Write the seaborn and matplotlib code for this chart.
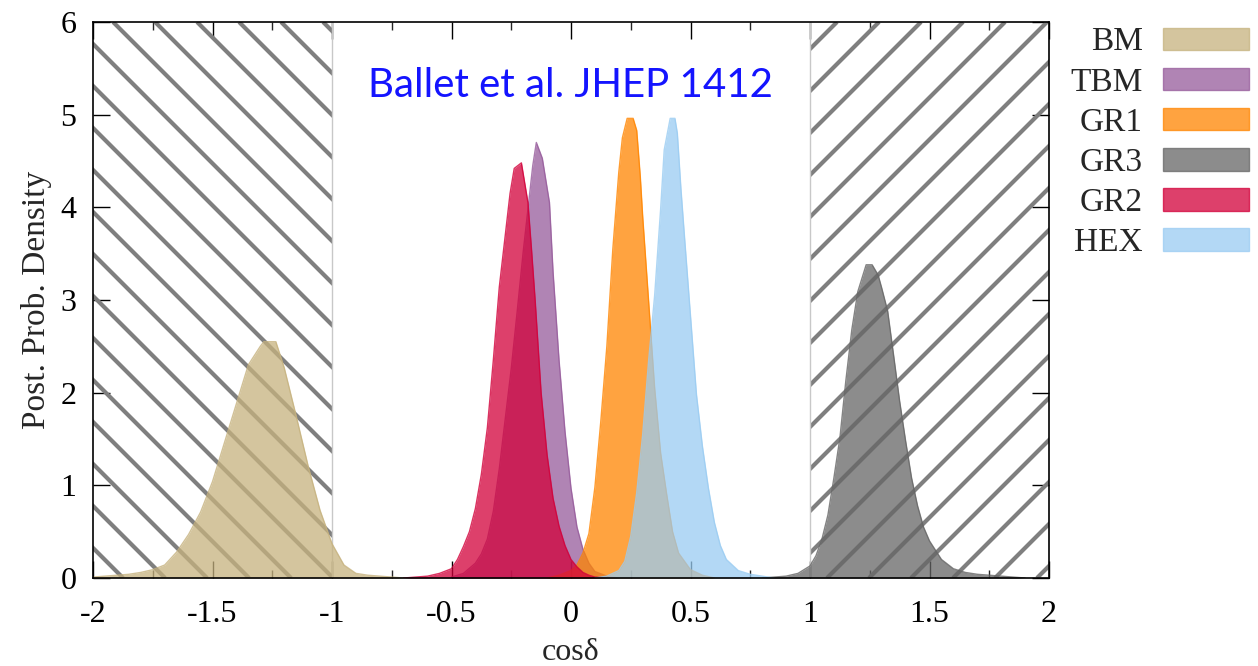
import numpy as np
import pandas as pd
import matplotlib
matplotlib.use("Agg")
import matplotlib.pyplot as plt
import seaborn as sns
from matplotlib.patches import Rectangle, Patch
from matplotlib.ticker import MultipleLocator

# ---------------- data ----------------
series_names = ["BM", "TBM", "GR1", "GR3", "GR2", "HEX"]

bm_x = [-2.0, -1.9, -1.85, -1.8, -1.75, -1.7, -1.65, -1.6, -1.55, -1.5, -1.45, -1.4, -1.35,
        -1.3, -1.285, -1.235, -1.2, -1.15, -1.1, -1.05, -1.0, -0.95, -0.9, -0.85, -0.8, -0.7]
bm_y = [0.01, 0.03, 0.04, 0.06, 0.09, 0.14, 0.28, 0.47, 0.71, 1.04, 1.46, 1.88, 2.30,
        2.50, 2.55, 2.55, 2.27, 1.75, 1.21, 0.73, 0.37, 0.14, 0.05, 0.03, 0.02, 0.0]

tbm_x = [-0.50, -0.45, -0.40, -0.375, -0.35, -0.325, -0.30, -0.275, -0.25, -0.225, -0.20,
         -0.175, -0.16, -0.145, -0.12, -0.09, -0.075, -0.05, -0.025, 0.0, 0.025, 0.05,
         0.075, 0.10, 0.15, 0.20]
tbm_y = [0.01, 0.05, 0.16, 0.26, 0.42, 0.72, 1.18, 1.72, 2.26, 2.88, 3.52,
         4.10, 4.45, 4.70, 4.53, 4.05, 3.30, 2.35, 1.58, 0.97, 0.55, 0.31,
         0.16, 0.07, 0.02, 0.0]

gr1_x = [-0.10, -0.05, 0.0, 0.025, 0.05, 0.075, 0.10, 0.125, 0.15, 0.175, 0.20, 0.215,
         0.235, 0.26, 0.275, 0.29, 0.30, 0.325, 0.35, 0.375, 0.40, 0.425, 0.45, 0.50,
         0.55, 0.60]
gr1_y = [0.0, 0.03, 0.08, 0.14, 0.27, 0.48, 0.98, 1.70, 2.50, 3.55, 4.38, 4.75,
         4.96, 4.96, 4.83, 4.33, 3.90, 2.98, 2.05, 1.35, 0.91, 0.50, 0.27, 0.09,
         0.03, 0.0]

gr3_x = [0.80, 0.85, 0.90, 0.95, 1.0, 1.025, 1.05, 1.075, 1.10, 1.125, 1.15, 1.175, 1.20,
         1.235, 1.26, 1.285, 1.30, 1.325, 1.35, 1.375, 1.40, 1.425, 1.45, 1.475, 1.50,
         1.55, 1.60, 1.65, 1.70, 1.80, 1.90]
gr3_y = [0.0, 0.01, 0.02, 0.05, 0.13, 0.24, 0.42, 0.68, 1.08, 1.51, 2.13, 2.68, 3.09,
         3.38, 3.38, 3.27, 3.13, 2.88, 2.40, 1.91, 1.48, 1.08, 0.78, 0.55, 0.40,
         0.20, 0.10, 0.06, 0.04, 0.02, 0.0]

gr2_x = [-0.70, -0.65, -0.60, -0.55, -0.50, -0.475, -0.45, -0.425, -0.40, -0.375, -0.35,
         -0.325, -0.30, -0.275, -0.255, -0.2375, -0.2075, -0.18, -0.165, -0.15, -0.125,
         -0.10, -0.075, -0.05, -0.025, 0.0, 0.025, 0.05, 0.075, 0.10, 0.15]
gr2_y = [0.0, 0.01, 0.02, 0.05, 0.10, 0.20, 0.34, 0.50, 0.75, 1.12, 1.62,
         2.35, 3.14, 3.70, 4.15, 4.42, 4.48, 4.05, 3.54, 3.00, 2.00,
         1.33, 0.86, 0.56, 0.35, 0.20, 0.12, 0.06, 0.03, 0.01, 0.0]

hex_x = [0.10, 0.15, 0.20, 0.225, 0.25, 0.275, 0.30, 0.325, 0.35, 0.375, 0.39, 0.415,
         0.435, 0.445, 0.46, 0.475, 0.50, 0.525, 0.55, 0.575, 0.60, 0.625, 0.65, 0.70,
         0.75, 0.80, 0.85]
hex_y = [0.0, 0.02, 0.08, 0.18, 0.45, 0.92, 1.55, 2.35, 3.05, 3.98, 4.62, 4.96,
         4.96, 4.80, 4.20, 3.68, 2.83, 1.98, 1.42, 0.97, 0.60, 0.35, 0.20, 0.08,
         0.04, 0.02, 0.0]

x_ticks = [-2, -1.5, -1, -0.5, 0, 0.5, 1, 1.5, 2]
x_tick_labels = ["-2", "-1.5", "-1", "-0.5", "0", "0.5", "1", "1.5", "2"]
y_ticks = [0, 1, 2, 3, 4, 5, 6]
excluded_regions = [(-2.0, -1.0), (1.0, 2.0)]

# ---------------- styling ----------------
series_colors = {
    "BM": "#c6b27e",
    "TBM": "#965b9b",
    "GR1": "#ff8500",
    "GR3": "#666666",
    "GR2": "#d2003a",
    "HEX": "#9accf2",
}
fill_alpha = 0.75

sns.set_theme(style="ticks")
plt.rcParams["font.family"] = ["Liberation Serif", "DejaVu Serif"]

W, H = 1258, 666
FS = 23
fig = plt.figure(figsize=(W / 100, H / 100), dpi=100)
ax = fig.add_axes([93 / W, 88 / H, 956 / W, 556 / H])
ax.set_xlim(-2, 2)
ax.set_ylim(0, 6)

# hatched excluded regions (decoration)
px_per_x = 956 / 4
px_per_y = 556 / 6
r = px_per_y / px_per_x          # dx per unit dy for a 45 degree line on screen
step = 42 / px_per_x
for (lo, hi), direction, start in zip(excluded_regions, [+1, -1], [-1.916, 1.113]):
    clip = Rectangle((lo, 0), hi - lo, 6, transform=ax.transData, fill=False, lw=0)
    ax.add_patch(clip)
    for k in range(-20, 20):
        x0 = start + k * step
        x1 = x0 + direction * 6 * r
        ln, = ax.plot([x0, x1], [6, 0], color="#7f7f7f", lw=3.0,
                      solid_capstyle="butt", zorder=1)
        ln.set_clip_path(clip)
    for edge in (lo, hi):
        if abs(edge) < 2:
            ax.axvline(edge, color="#c8c8c8", lw=1.0, zorder=1.5)

data = {
    "BM": (bm_x, bm_y),
    "TBM": (tbm_x, tbm_y),
    "GR1": (gr1_x, gr1_y),
    "GR3": (gr3_x, gr3_y),
    "GR2": (gr2_x, gr2_y),
    "HEX": (hex_x, hex_y),
}

for i, name in enumerate(series_names):
    xs, ys = data[name]
    df = pd.DataFrame({"x": xs, "y": ys})
    c = series_colors[name]
    ax.fill_between(df["x"], 0, df["y"], color=c, alpha=fill_alpha, lw=0, zorder=2 + i)
    sns.lineplot(data=df, x="x", y="y", ax=ax, color=c, lw=1.0, alpha=0.8,
                 zorder=2 + i + 0.5, legend=False)

# axes, ticks
ax.set_xticks(x_ticks)
ax.set_xticklabels(x_tick_labels)
ax.set_yticks(y_ticks)
ax.xaxis.set_minor_locator(MultipleLocator(0.25))
ax.tick_params(axis="both", which="major", direction="in", length=12, width=1.0,
               top=True, right=True, labelsize=FS, colors="black")
ax.tick_params(axis="x", which="major", pad=16)
ax.tick_params(axis="y", which="major", pad=12)
ax.tick_params(axis="x", which="minor", direction="in", length=6, width=1.0,
               top=True, bottom=True)
for sp in ax.spines.values():
    sp.set_visible(True)
    sp.set_color("black")
    sp.set_linewidth(1.2)
    sp.set_zorder(20)

ax.set_xlabel("cosδ", fontsize=FS, labelpad=6)
ax.set_ylabel("Post. Prob. Density", fontsize=FS + 1, labelpad=6)

ax.text(0.0, 5.32, "Ballet et al. JHEP 1412", color="#1414ff", fontsize=29,
        family=["Lato", "DejaVu Sans"], ha="center", va="center", zorder=30)

handles = [Patch(facecolor=series_colors[n], edgecolor=series_colors[n], alpha=fill_alpha,
                 lw=1.0) for n in series_names]
FL = 24
fig.legend(handles, series_names, loc="upper right", bbox_to_anchor=(1249 / W, 1 - 27 / H),
           frameon=False, markerfirst=False, fontsize=FL, handlelength=86 / (FL * 100 / 72),
           handleheight=0.66, labelspacing=0.29, handletextpad=0.6, borderpad=0,
           borderaxespad=0)

fig.savefig("out.png", dpi=100)
